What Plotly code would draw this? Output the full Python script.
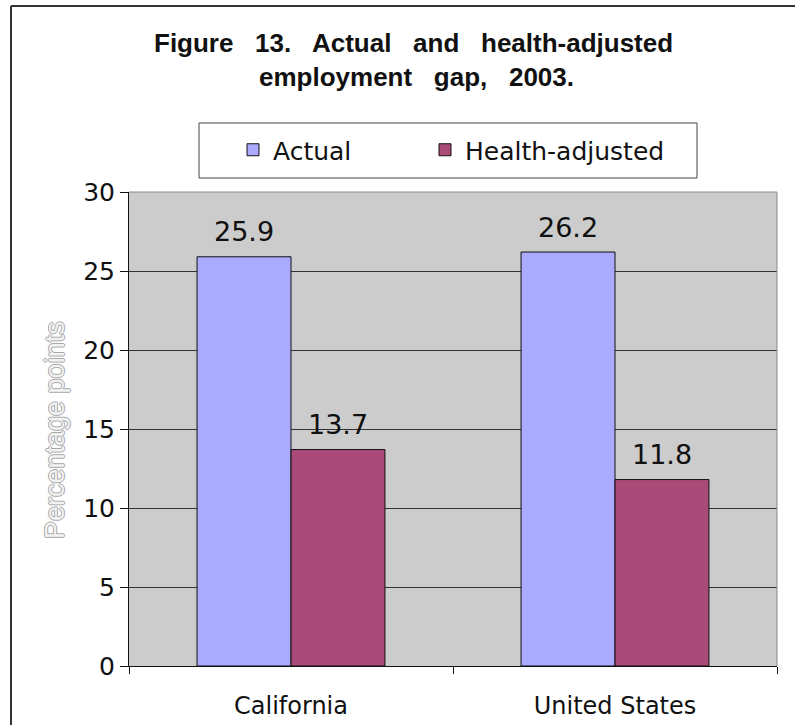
import plotly.graph_objects as go

# ---- data ----
categories = ["California", "United States"]
series_names = ["Actual", "Health-adjusted"]
actual = [25.9, 26.2]
health_adjusted = [13.7, 11.8]
y_ticks = [0, 5, 10, 15, 20, 25, 30]

colors = ["#AAAAFF", "#AA4A78"]

W, H = 795, 725
L, R, T, B = 129, 777, 192, 666   # plot-area edges in pixels


def px_x(x):
    return (x - L) / (R - L)


def px_y(y):
    return (B - y) / (B - T)


legend_font = dict(family="DejaVu Sans", size=25, color="#111111")
legend_ids = ["legend", "legend2"]
legend_left_px = [233, 425]

fig = go.Figure()
for name, vals, col, lg in zip(series_names, [actual, health_adjusted], colors, legend_ids):
    fig.add_trace(go.Bar(
        x=categories, y=vals, name=name, legend=lg,
        marker=dict(color=col, line=dict(color="#111111", width=1)),
        hoverinfo="skip",
    ))

# value labels above each bar
annotations = []
bar_px = 94
for i, vals in enumerate([actual, health_adjusted]):
    shift = -bar_px / 2 if i == 0 else bar_px / 2
    for cat, v in zip(categories, vals):
        annotations.append(dict(
            x=cat, y=v, xref="x", yref="y", text=f"{v:.1f}",
            showarrow=False, xshift=shift, yshift=25, yanchor="middle",
            font=dict(family="DejaVu Sans", size=27, color="#111111"),
        ))

# title, two lines
nb = "\u00a0"
title_font = dict(family="Liberation Sans", size=26, color="#111111", weight="bold")
annotations.append(dict(
    x=px_x(413), y=px_y(43), xref="paper", yref="paper",
    text=f"Figure{nb}{nb} 13.{nb}{nb} Actual{nb}{nb} and{nb}{nb} health-adjusted",
    showarrow=False, xanchor="center", yanchor="middle", font=title_font,
))
annotations.append(dict(
    x=px_x(416), y=px_y(77), xref="paper", yref="paper",
    text=f"employment{nb}{nb} gap,{nb}{nb} 2003.",
    showarrow=False, xanchor="center", yanchor="middle", font=title_font,
))

# y-axis title
annotations.append(dict(
    x=px_x(55), y=px_y(430), xref="paper", yref="paper",
    text="Percentage points", textangle=-90, showarrow=False,
    xanchor="center", yanchor="middle",
    font=dict(family="Liberation Sans", size=27, color="#f2f2f2",
              shadow="1px 0 0 #a8a8a8, -1px 0 0 #a8a8a8, 0 1px 0 #a8a8a8, 0 -1px 0 #a8a8a8"),
))

shapes = [
    # outer frame (left and top)
    dict(type="line", xref="paper", yref="paper",
         x0=px_x(11), x1=px_x(11), y0=px_y(6), y1=px_y(H + 5),
         line=dict(color="#333333", width=2)),
    dict(type="line", xref="paper", yref="paper",
         x0=px_x(11), x1=px_x(W + 5), y0=px_y(6), y1=px_y(6),
         line=dict(color="#333333", width=2)),
    # plot area top and right edges
    dict(type="line", xref="paper", yref="paper", x0=0, x1=1, y0=1, y1=1,
         line=dict(color="#8a8a8a", width=1)),
    dict(type="line", xref="paper", yref="paper", x0=1, x1=1, y0=0, y1=1,
         line=dict(color="#8a8a8a", width=1)),
    # legend box
    dict(type="rect", xref="paper", yref="paper",
         x0=px_x(199), x1=px_x(697), y0=px_y(178), y1=px_y(123),
         line=dict(color="#444444", width=1), fillcolor="rgba(0,0,0,0)"),
]

legend_common = dict(
    orientation="h", y=px_y(150), xanchor="left", yanchor="middle",
    bgcolor="rgba(0,0,0,0)", borderwidth=0, font=legend_font, itemclick=False,
)

fig.update_layout(
    width=W, height=H,
    margin=dict(l=L, r=W - R, t=T, b=H - B, pad=0, autoexpand=False),
    paper_bgcolor="white", plot_bgcolor="#CCCCCC",
    barmode="group", bargap=0.42, bargroupgap=0,
    showlegend=True,
    legend=dict(x=px_x(legend_left_px[0]), **legend_common),
    legend2=dict(x=px_x(legend_left_px[1]), **legend_common),
    xaxis=dict(
        type="category", showline=True, linecolor="#111111", linewidth=1,
        ticks="outside", ticklen=7, tickcolor="#111111", tickson="boundaries",
        ticklabelstandoff=18, automargin=False,
        tickfont=dict(family="DejaVu Sans", size=24, color="#111111"),
        showgrid=False, fixedrange=True,
    ),
    yaxis=dict(
        range=[0, 30], tickvals=y_ticks, showline=True, linecolor="#111111",
        linewidth=1, ticks="outside", ticklen=8, tickcolor="#111111",
        showgrid=True, gridcolor="#333333", gridwidth=1, zeroline=False,
        automargin=False,
        tickfont=dict(family="DejaVu Sans", size=25, color="#111111"),
        fixedrange=True,
    ),
    annotations=annotations,
    shapes=shapes,
)

fig.write_html("out.html", config={"displayModeBar": False})
